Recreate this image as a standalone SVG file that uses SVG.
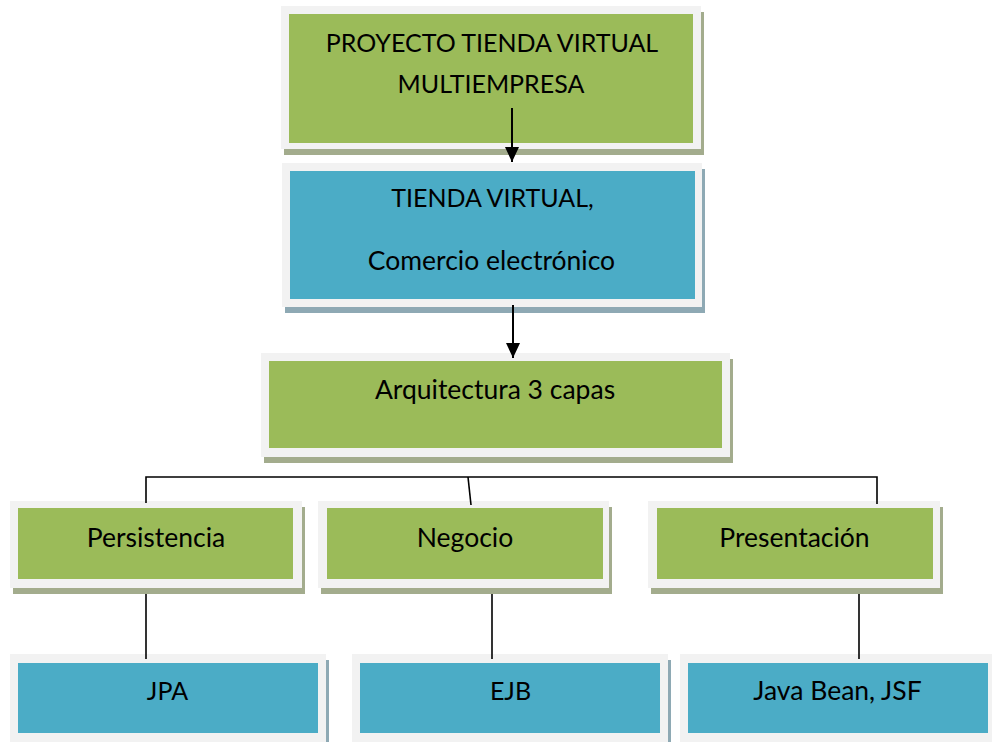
<svg xmlns="http://www.w3.org/2000/svg" width="992" height="742" viewBox="0 0 992 742">
<style>
  .frame{fill:#f2f2f2}
  .shg{fill:#a3ac8d}
  .shb{fill:#8ea9b4}
  .green{fill:#9bbb59}
  .blue{fill:#4bacc6}
  text{font-family:Lato,"Liberation Sans",sans-serif;font-size:26.5px;fill:#000;text-anchor:middle}
  text.caps{font-size:25px}
  .ln{stroke:#000;stroke-width:1.6;fill:none}
  .arr{stroke:#000;stroke-width:2;fill:none}
</style>
<defs>
  <marker id="ah" markerUnits="userSpaceOnUse" markerWidth="16" markerHeight="16" viewBox="0 0 16 16" refX="15" refY="8" orient="auto">
    <path d="M0,1 L15,8 L0,15 Z" fill="#000"/>
  </marker>
</defs>
<rect width="992" height="742" fill="#fff"/>

<g id="n-proyecto">
  <rect class="shg" x="284" y="12" width="420" height="143"/>
  <rect class="frame" x="281" y="6" width="420" height="143"/>
  <rect class="green" x="289" y="14" width="404" height="129"/>
  <text class="caps" x="492" y="52">PROYECTO TIENDA VIRTUAL</text>
  <text class="caps" x="491" y="93">MULTIEMPRESA</text>
</g>

<g id="n-tienda">
  <rect class="shb" x="285" y="169" width="420" height="144"/>
  <rect class="frame" x="282" y="163" width="420" height="144"/>
  <rect class="blue" x="290" y="171" width="405" height="128"/>
  <text class="caps" x="492.5" y="207">TIENDA VIRTUAL,</text>
  <text x="491.5" y="270">Comercio electrónico</text>
</g>

<g id="n-arquitectura">
  <rect class="shg" x="264" y="359" width="469" height="104"/>
  <rect class="frame" x="261" y="353" width="469" height="104"/>
  <rect class="green" x="269" y="361" width="453" height="87"/>
  <text x="495" y="399">Arquitectura 3 capas</text>
</g>

<g id="n-persistencia">
  <rect class="shg" x="13" y="507" width="292" height="87"/>
  <rect class="frame" x="10" y="501" width="292" height="87"/>
  <rect class="green" x="18" y="508" width="275" height="71"/>
  <text x="156" y="547">Persistencia</text>
</g>

<g id="n-negocio">
  <rect class="shg" x="321" y="507" width="291" height="87"/>
  <rect class="frame" x="318" y="501" width="291" height="87"/>
  <rect class="green" x="327" y="508" width="276" height="71"/>
  <text x="465" y="547">Negocio</text>
</g>

<g id="n-presentacion">
  <rect class="shg" x="651" y="507" width="292" height="87"/>
  <rect class="frame" x="648" y="501" width="292" height="87"/>
  <rect class="green" x="657" y="508" width="276" height="71"/>
  <text x="794.5" y="547">Presentación</text>
</g>

<g id="n-jpa">
  <rect class="shb" x="13" y="660" width="316" height="90"/>
  <rect class="frame" x="10" y="654" width="316" height="88"/>
  <rect class="blue" x="18" y="663" width="300" height="70"/>
  <text class="caps" x="167.5" y="700">JPA</text>
</g>

<g id="n-ejb">
  <rect class="shb" x="355" y="660" width="316" height="90"/>
  <rect class="frame" x="352" y="654" width="316" height="88"/>
  <rect class="blue" x="360" y="663" width="300" height="70"/>
  <text class="caps" x="510.5" y="700">EJB</text>
</g>

<g id="n-javabean">
  <rect class="frame" x="680" y="654" width="316" height="88"/>
  <rect class="blue" x="688" y="663" width="300" height="70"/>
  <text x="837.5" y="700">Java Bean, JSF</text>
</g>

<g id="connectors">
  <line class="arr" x1="512" y1="108" x2="512" y2="162" marker-end="url(#ah)"/>
  <line class="arr" x1="513" y1="305" x2="513" y2="358" marker-end="url(#ah)"/>
  <path class="ln" d="M146,503 V477 H877 V504"/>
  <line class="ln" x1="468" y1="477" x2="471" y2="505"/>
  <line class="ln" x1="146" y1="594" x2="146" y2="659"/>
  <line class="ln" x1="492" y1="594" x2="492" y2="659"/>
  <line class="ln" x1="859" y1="594" x2="859" y2="659"/>
</g>
</svg>
